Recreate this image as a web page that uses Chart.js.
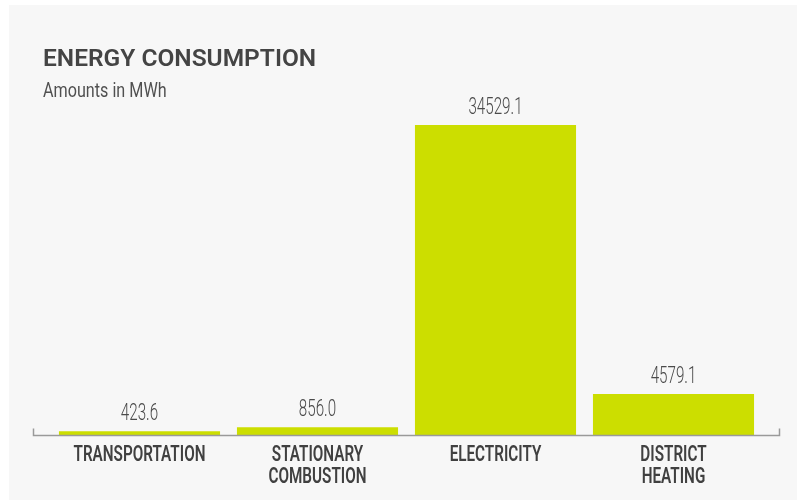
<!DOCTYPE html>
<html>
<head>
<meta charset="utf-8">
<script src="https://cdn.jsdelivr.net/npm/chart.js@4"></script>
<style>
    body { margin: 0; background: #ffffff; }
    #panel { position: absolute; left: 9px; top: 5px; width: 788px; height: 495px; background: #f7f7f7; }
</style>
</head>
<body>
<div id="panel"><canvas id="barChart"></canvas></div>
<script>
var categorias = [['TRANSPORTATION'], ['STATIONARY', 'COMBUSTION'], ['ELECTRICITY'], ['DISTRICT', 'HEATING']];
var consumo = [423.6, 856.0, 34529.1, 4579.1];
var titulo = 'ENERGY CONSUMPTION';
var subtitulo = 'Amounts in MWh';

// escreve texto "condensado" (fonte estreita nao existe aqui)
function textoEstreito(ctx, texto, x, y, escala) {
    ctx.save();
    ctx.translate(x, y);
    ctx.scale(escala, 1);
    ctx.fillText(texto, 0, 0);
    ctx.restore();
}

// titulo e subtitulo no canto
const textoTopo = {
    id: 'textoTopo',
    beforeDraw(chart) {
        const ctx = chart.ctx;
        ctx.save();
        ctx.fillStyle = '#444444';
        ctx.textAlign = 'left';
        ctx.textBaseline = 'alphabetic';
        ctx.font = '600 24.5px Roboto';
        ctx.fillText(titulo, 34, 61);
        ctx.fillStyle = '#505050';
        ctx.font = '400 21px Roboto';
        textoEstreito(ctx, subtitulo, 34, 92, 0.77);
        ctx.restore();
    }
};

// linha da base com os tracinhos nas pontas
const linhaBase = {
    id: 'linhaBase',
    afterDatasetsDraw(chart) {
        const ctx = chart.ctx;
        const a = chart.chartArea;
        const x1 = a.left - 17, x2 = a.right + 17, y = a.bottom + 0.5;
        ctx.save();
        ctx.strokeStyle = '#9a9a9a';
        ctx.lineWidth = 1.5;
        ctx.beginPath();
        ctx.moveTo(x1, y - 7);
        ctx.lineTo(x1, y);
        ctx.lineTo(x2, y);
        ctx.lineTo(x2, y - 7);
        ctx.stroke();
        ctx.restore();
    }
};

// valores em cima das barras + nomes das categorias embaixo
const rotulos = {
    id: 'rotulos',
    afterDatasetsDraw(chart) {
        const ctx = chart.ctx;
        const meta = chart.getDatasetMeta(0);
        const eixoX = chart.scales.x;
        ctx.save();
        ctx.textAlign = 'center';
        ctx.textBaseline = 'alphabetic';
        ctx.fillStyle = '#4a4a4a';
        ctx.font = '300 23px Roboto';
        meta.data.forEach(function (bar, i) {
            textoEstreito(ctx, consumo[i].toFixed(1), bar.x, bar.y - 11, 0.66);
        });
        ctx.fillStyle = '#404040';
        ctx.font = '600 21.5px Roboto';
        categorias.forEach(function (linhas, i) {
            const x = eixoX.getPixelForTick(i);
            linhas.forEach(function (linha, j) {
                textoEstreito(ctx, linha, x, chart.chartArea.bottom + 26 + j * 22, 0.71);
            });
        });
        ctx.restore();
    }
};

const data_energia = {
    labels: categorias,
    datasets: [{
        label: 'Energy consumption',
        data: consumo,
        backgroundColor: '#ccde00',
        borderWidth: 0,
        categoryPercentage: 1,
        barPercentage: 0.905
    }]
};

const config = {
    type: 'bar',
    data: data_energia,
    options: {
        responsive: true,
        maintainAspectRatio: false,
        animation: false,
        layout: {
            padding: { left: 41.5, right: 34.5, top: 120, bottom: 0 }
        },
        plugins: {
            legend: { display: false },
            tooltip: { enabled: false }
        },
        scales: {
            x: {
                grid: { display: false },
                border: { display: false },
                ticks: { display: false },
                afterFit: function (scale) { scale.height = 65; }
            },
            y: {
                display: false,
                min: 0,
                max: Math.max(...consumo)
            }
        }
    },
    plugins: [textoTopo, linhaBase, rotulos]
};

const ctx = document.getElementById('barChart').getContext('2d');
const grafico_energia = new Chart(ctx, config);
</script>
</body>
</html>
